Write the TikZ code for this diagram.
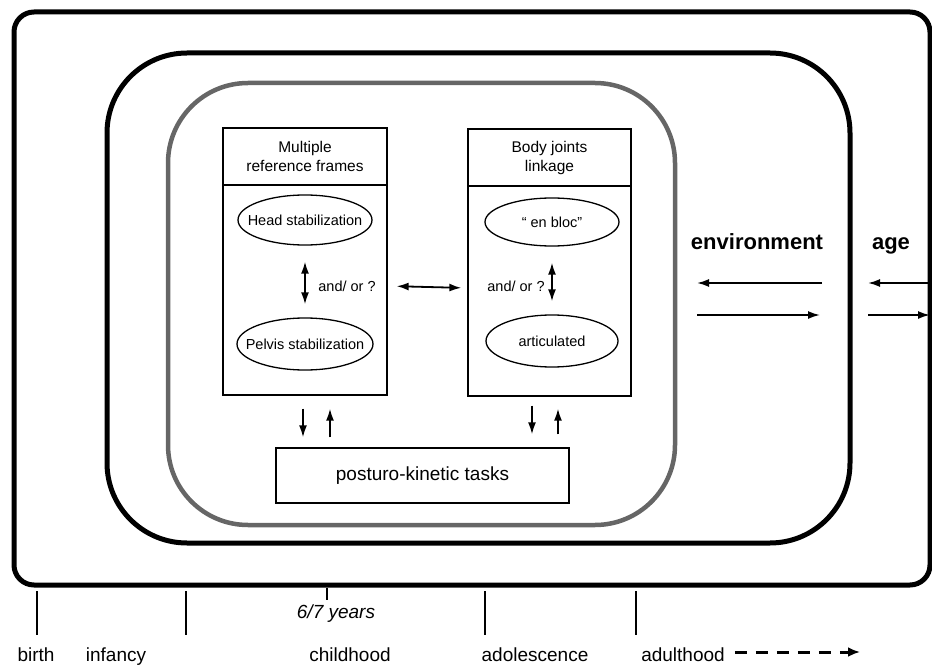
\documentclass[tikz,border=0pt]{standalone}
\usepackage{fontspec}
\setmainfont{Liberation Sans}
\usetikzlibrary{arrows.meta,shapes.geometric}
\tikzset{
  frame/.style={draw,line width=#1,rounded corners=80pt},
  box/.style={draw,line width=1.3pt,rectangle,inner sep=0pt},
  oval/.style={draw,line width=1.3pt,ellipse,inner xsep=-14pt,inner ysep=6pt,font=\fontsize{14.5}{17}\selectfont},
  arr/.style={line width=1.8pt,-{Latex[length=12pt,width=8pt]}},
  dbl/.style={line width=1.8pt,{Latex[length=12pt,width=8pt]}-{Latex[length=12pt,width=8pt]}},
  lbl/.style={inner sep=0pt,anchor=base,font=\fontsize{19}{22}\selectfont},
  tick/.style={line width=2pt}
}
\begin{document}
\begin{tikzpicture}[x=1pt,y=-1pt]
\useasboundingbox (0,0) rectangle (932,666);
% the three frames
\draw[line width=5pt,rounded corners=20pt] (14,12) rectangle (930,585);
\draw[frame=5pt] (107,53) rectangle (850,543);
\draw[frame=4.5pt,black!60] (168,83) rectangle (675,525);
% left column
\node[box,minimum width=164pt,minimum height=210pt] (mrfbody) at (305,290) {};
\node[box,minimum width=164pt,minimum height=57pt,align=center,
      font=\fontsize{15.5}{19}\selectfont] (mrfhead) at (305,156.5) {Multiple\\reference frames};
\node[oval,minimum width=134pt,minimum height=50pt] (head) at (305,220) {Head stabilization};
\node[oval,minimum width=136pt,minimum height=52pt] (pelvis) at (305,344) {Pelvis stabilization};
\node[inner sep=0pt,font=\fontsize{14.5}{17}\selectfont] (andor1) at (347,286) {and/ or ?};
\draw[dbl,shorten <=16pt,shorten >=13pt] (head.south) -- (pelvis.north);
% right column
\node[box,minimum width=163pt,minimum height=210pt] (bjlbody) at (549.5,291) {};
\node[box,minimum width=163pt,minimum height=57pt,align=center,
      font=\fontsize{15.5}{19}\selectfont] (bjlhead) at (549.5,157.5) {Body joints\\linkage};
\node[oval,minimum width=134pt,minimum height=48pt] (enbloc) at (552,222) {`` en bloc''};
\node[oval,minimum width=132pt,minimum height=52pt] (artic) at (552,341) {articulated};
\node[inner sep=0pt,font=\fontsize{14.5}{17}\selectfont] (andor2) at (516,286) {and/ or ?};
\draw[dbl,shorten <=16pt,shorten >=13pt] (enbloc.south) -- (artic.north);
\draw[dbl,shorten <=9pt,shorten >=6pt] ([yshift=4pt]mrfbody.east) -- ([yshift=3pt]bjlbody.west);
% tasks
\node[box,minimum width=293pt,minimum height=55pt,font=\fontsize{19}{22}\selectfont] (tasks) at (422.5,475.5) {posturo-kinetic tasks};
\draw[arr,shorten <=13pt,shorten >=10pt] ([xshift=-2pt]mrfbody.south) -- ([xshift=-2pt]mrfbody.south |- tasks.north);
\draw[arr,shorten <=10pt,shorten >=13pt] ([xshift=25pt]mrfbody.south |- tasks.north) -- ([xshift=25pt]mrfbody.south);
\draw[arr,shorten <=9pt,shorten >=13pt] ([xshift=-17.5pt]bjlbody.south) -- ([xshift=-17.5pt]bjlbody.south |- tasks.north);
\draw[arr,shorten <=13pt,shorten >=12pt] ([xshift=8.5pt]bjlbody.south |- tasks.north) -- ([xshift=8.5pt]bjlbody.south);
% environment and age
\node[inner sep=0pt,anchor=base,font=\fontsize{22}{26}\bfseries] (env) at (757,249) {environment};
\node[inner sep=0pt,anchor=base,font=\fontsize{22}{26}\bfseries] (age) at (891,249) {age};
\coordinate (envl) at (697,283); \coordinate (envr) at (822,283);
\coordinate (envl2) at (697,315); \coordinate (envr2) at (820,315);
\coordinate (agel) at (868,283); \coordinate (ager) at (934,283);
\coordinate (agel2) at (868,315); \coordinate (ager2) at (930,315);
\draw[arr] (envr) -- (envl);
\draw[arr] (envl2) -- (envr2);
\draw[arr] (ager) -- (agel);
\draw[arr] (agel2) -- (ager2);
% time line
\foreach \x in {37,186,485,636}
  \draw[tick] (\x,591) -- (\x,635);
\draw[tick] (327,588) -- (327,600);
\node[lbl,font=\fontsize{19}{22}\itshape] (years) at (336,618) {6/7 years};
\node[lbl] (birth) at (36,661) {birth};
\node[lbl] (infancy) at (116,661) {infancy};
\node[lbl] (childhood) at (350,661) {childhood};
\node[lbl] (adolescence) at (535,661) {adolescence};
\node[lbl] (adulthood) at (683,661) {adulthood};
\coordinate (later) at (860,652);
\draw[line width=3pt,dash pattern=on 12pt off 9pt,-{Latex[length=12pt,width=10pt]}]
  ([xshift=10pt]adulthood.east |- later) -- (later);
\end{tikzpicture}
\end{document}
